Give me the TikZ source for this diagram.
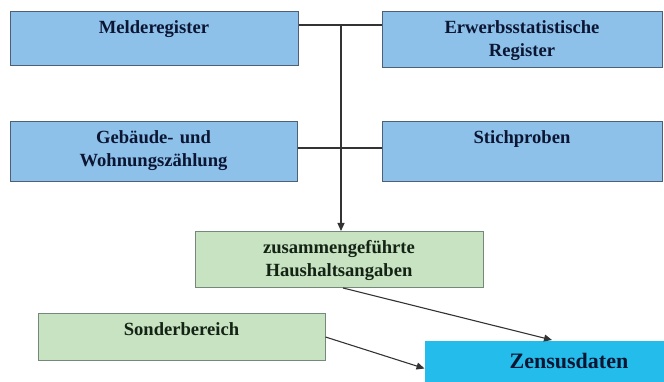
\documentclass[tikz,border=0pt]{standalone}
\usepackage{fontspec}
\setmainfont{Liberation Serif}
\usetikzlibrary{arrows.meta}
\definecolor{regblue}{HTML}{8DC1EA}
\definecolor{regline}{HTML}{4E6073}
\definecolor{mixgreen}{HTML}{C7E3C2}
\definecolor{mixline}{HTML}{76887A}
\definecolor{zenscyan}{HTML}{24BDEB}
\definecolor{darknavy}{HTML}{0C1633}
\definecolor{darkmoss}{HTML}{142314}
\tikzset{
  panel/.style={anchor=north, inner sep=0pt, line width=1pt, align=center, text height=22pt, font=\bfseries\fontsize{18.6}{23}\selectfont},
  regbox/.style={panel, draw=regline, fill=regblue, text=darknavy},
  mixbox/.style={panel, draw=mixline, fill=mixgreen, text=darkmoss},
  zensbox/.style={panel, fill=zenscyan, text=darknavy, text height=28pt, font=\bfseries\fontsize{22}{26}\selectfont},
  conn/.style={draw=black!80, line width=1.1pt},
  arr/.style={conn, -{Triangle[length=8pt,width=7pt]}}
}

\begin{document}
\begin{tikzpicture}[x=1pt,y=-1pt]
         \useasboundingbox (0,0) rectangle (664,382);
         \clip (0,0) rectangle (664,382);

         \node[regbox, text width=288pt, text depth=32pt] (mel) at (154,11) {Melderegister};
         \node[regbox, text width=280pt, text depth=34pt] (erw) at (522,11) {Erwerbsstatistische\\Register};
         \node[regbox, text width=287pt, text depth=38pt] (geb) at (153.5,121) {Gebäude- und\\Wohnungszählung};
         \node[regbox, text width=280pt, text depth=38pt] (sti) at (522,121) {Stichproben};
         \node[mixbox, text width=288pt, text depth=34pt] (haus) at (339,231) {zusammengeführte\\Haushaltsangaben};
         \node[mixbox, text width=287pt, text depth=25pt] (son) at (181.5,313) {Sonderbereich};
         \node[zensbox, text width=288pt, text depth=28pt] (zen) at (569,340) {Zensusdaten};

         \coordinate (join) at (341,25);
         \coordinate (cross) at (341,148);

         \draw[conn] (mel.east |- join) -- (erw.west |- join);
         \draw[conn] (geb.east |- cross) -- (sti.west |- cross);
         \draw[arr] (join) -- (join |- haus.north);
         \draw[arr] ([xshift=4pt]haus.south) -- ([xshift=-17pt]zen.north);
         \draw[arr] (son.east) -- (zen.west);
\end{tikzpicture}
\end{document}
